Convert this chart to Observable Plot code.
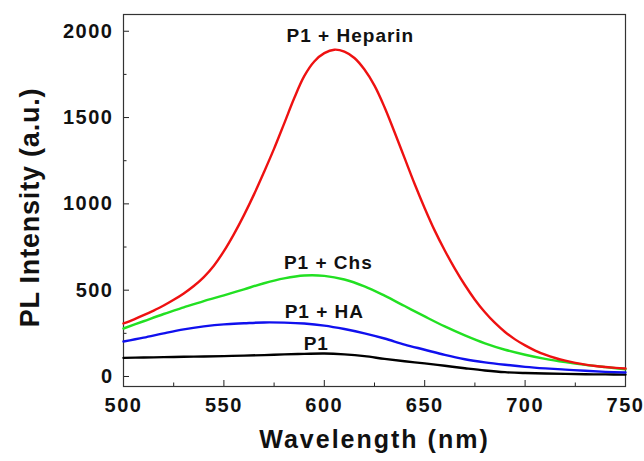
<!DOCTYPE html>
<html>
<head>
<meta charset="utf-8">
<script src="https://cdn.jsdelivr.net/npm/d3@7"></script>
<script src="https://cdn.jsdelivr.net/npm/@observablehq/plot@0.6"></script>
<style>
  html, body { margin: 0; padding: 0; background: #fff; }
  #chart svg { font-family: "Liberation Sans", Arial, sans-serif; font-weight: bold; }
  .ticklab text { letter-spacing: 1.5px; }
  .xtitle text { letter-spacing: 2px; }
  .ytitle text { letter-spacing: 0.8px; }
  .serieslab text { letter-spacing: 1px; }
</style>
</head>
<body>
<div id="chart"></div>
<script>
// Wavelength grids (nm)
const wl10 = [500,510,520,530,540,550,560,570,580,590,600,610,620,630,640,650,660,670,680,690,700,710,720,730,740,750];
const wl5 = [500,505,510,515,520,525,530,535,540,545,550,555,560,565,570,575,580,585,590,595,600,605,610,615,620,625,630,635,640,645,650,655,660,665,670,675,680,685,690,695,700,705,710,715,720,725,730,735,740,745,750];

// P1 + Heparin (red), on 5 nm grid
const heparin = [307,330,355,382,411,444,481,524,576,642,726,825,935,1055,1185,1320,1465,1612,1740,1825,1873,1893,1882,1845,1778,1685,1560,1415,1265,1115,975,845,730,625,530,445,372,310,258,215,180,150,126,107,92,79,69,61,55,50,46];
// P1 + Chs (green)
const chs = [278,320,362,400,437,470,505,540,568,585,583,562,522,468,408,348,290,238,192,155,126,102,83,67,54,42];
// P1 + HA (blue)
const ha = [203,225,250,273,290,302,308,313,312,307,295,275,250,220,185,155,125,100,82,68,56,47,40,33,27,23];
// P1 (black)
const p1 = [108,110,112,114,116,118,121,124,128,131,133,128,118,102,88,76,62,48,35,25,20,17,15,13,12,11];

// Series annotations
const labelNames = ["P1 + Heparin", "P1 + Chs", "P1 + HA", "P1"];
const labelX = [613, 602, 600, 596];
const labelY = [1972, 657, 374, 188];

// Ticks
const xMajor = [500,550,600,650,700,750];
const xMinor = [525,575,625,675,725];
const yMajor = [0,500,1000,1500,2000];
const yMinor = [250,750,1250,1750];

const toRows = (xs, ys) => xs.map((x, i) => ({x, y: ys[i]}));
const labels = labelNames.map((t, i) => ({t, x: labelX[i], y: labelY[i]}));

const chart = Plot.plot({
  width: 644,
  height: 461,
  marginLeft: 123,
  marginRight: 19,
  marginTop: 14,
  marginBottom: 75,
  x: {domain: [500, 750]},
  y: {domain: [-58, 2097]},
  style: {fontFamily: "Liberation Sans, Arial, sans-serif", fontWeight: "bold", background: "#fff", overflow: "visible"},
  marks: [
    Plot.axisX(xMajor, {tickSize: -6, tickPadding: 17, fontSize: 20, tickFormat: d => String(d), label: null, stroke: "#222", fill: "#111", className: "ticklab"}),
    Plot.axisX(xMinor, {tickSize: -3.5, tickFormat: () => "", label: null, stroke: "#222"}),
    Plot.axisY(yMajor, {tickSize: -6, tickPadding: 16, fontSize: 20, tickFormat: d => String(d), label: null, stroke: "#222", fill: "#111", className: "ticklab"}),
    Plot.axisY(yMinor, {tickSize: -3.5, tickFormat: () => "", label: null, stroke: "#222"}),
    Plot.frame({stroke: "#333", strokeWidth: 1.2}),
    Plot.line(toRows(wl10, p1), {x: "x", y: "y", stroke: "#000000", strokeWidth: 2.4, curve: "catmull-rom"}),
    Plot.line(toRows(wl10, ha), {x: "x", y: "y", stroke: "#1010ee", strokeWidth: 2.4, curve: "catmull-rom"}),
    Plot.line(toRows(wl10, chs), {x: "x", y: "y", stroke: "#22e022", strokeWidth: 2.4, curve: "catmull-rom"}),
    Plot.line(toRows(wl5, heparin), {x: "x", y: "y", stroke: "#ee1111", strokeWidth: 2.4, curve: "catmull-rom"}),
    Plot.text(labels, {x: "x", y: "y", text: "t", fontSize: 19, fontWeight: "bold", fill: "#111", textAnchor: "middle", className: "serieslab"}),
    Plot.text(["Wavelength (nm)"], {frameAnchor: "bottom", dy: 61, fontSize: 25, fontWeight: "bold", fill: "#111", textAnchor: "middle", className: "xtitle"}),
    Plot.text(["PL Intensity (a.u.)"], {frameAnchor: "left", rotate: -90, dx: -93, dy: 7, fontSize: 27, fontWeight: "bold", fill: "#111", textAnchor: "middle", className: "ytitle"})
  ]
});
document.getElementById("chart").appendChild(chart);
</script>
</body>
</html>
